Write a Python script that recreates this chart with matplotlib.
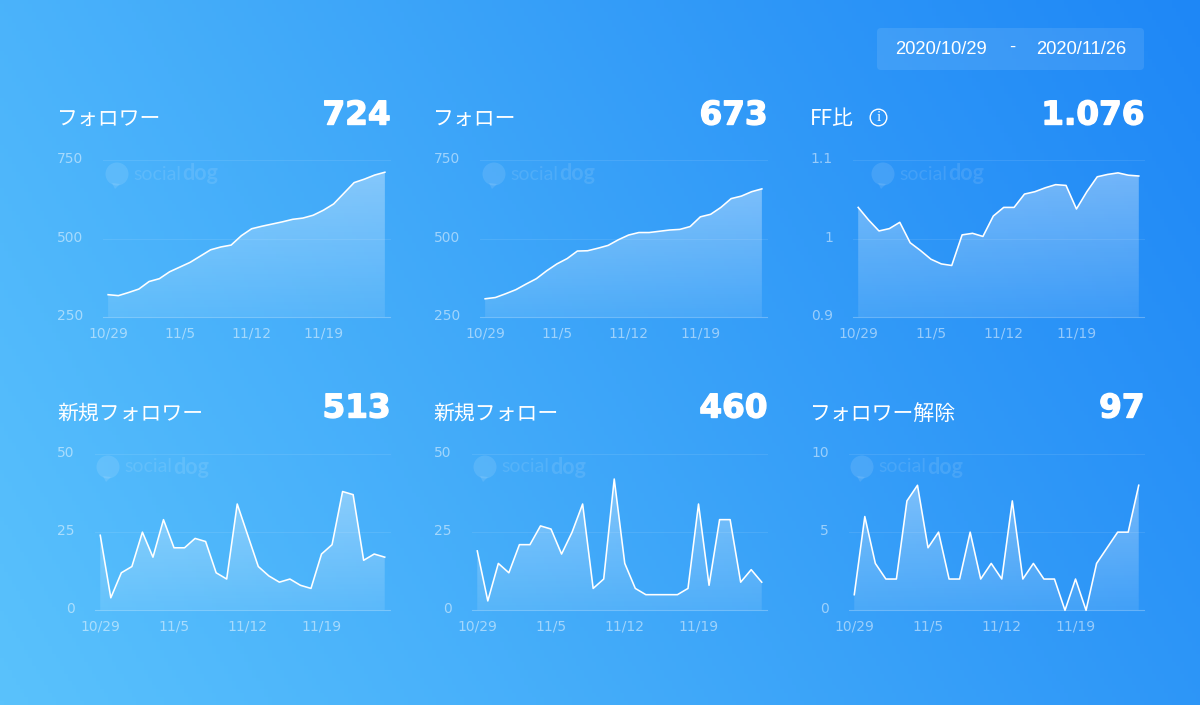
import matplotlib
matplotlib.use("Agg")
import matplotlib.pyplot as plt
import matplotlib.patheffects as pe
import numpy as np
from matplotlib.patches import Circle, FancyBboxPatch, Polygon
from matplotlib.transforms import ScaledTranslation

W, H = 1200, 705
JP = ["Noto Sans CJK JP", "DejaVu Sans"]

dates = ["10/29", "10/30", "10/31", "11/1", "11/2", "11/3", "11/4", "11/5", "11/6", "11/7",
         "11/8", "11/9", "11/10", "11/11", "11/12", "11/13", "11/14", "11/15", "11/16", "11/17",
         "11/18", "11/19", "11/20", "11/21", "11/22", "11/23", "11/24", "11/25"]
shown_dates = ["10/29", "11/5", "11/12", "11/19"]

titles = ["フォロワー", "フォロー", "FF比", "新規フォロワー", "新規フォロー", "フォロワー解除"]
totals = ["724", "673", "1.076", "513", "460", "97"]

followers = [322, 319, 329, 340, 364, 373, 395, 410, 425, 445, 465, 474, 480, 510,
             532, 540, 547, 554, 562, 566, 575, 591, 611, 645, 679, 690, 703, 712]
following = [309, 313, 325, 338, 356, 373, 398, 420, 437, 461, 462, 470, 479, 497,
             512, 520, 520, 524, 528, 530, 539, 570, 578, 600, 628, 636, 650, 659]
ff_ratio = [1.040, 1.024, 1.010, 1.013, 1.021, 0.995, 0.985, 0.974, 0.968, 0.966,
            1.005, 1.007, 1.003, 1.029, 1.040, 1.040, 1.057, 1.060, 1.065, 1.069,
            1.068, 1.038, 1.060, 1.079, 1.082, 1.084, 1.081, 1.080]
new_followers = [24, 4, 12, 14, 25, 17, 29, 20, 20, 23, 22, 12, 10, 34,
                 24, 14, 11, 9, 10, 8, 7, 18, 21, 38, 37, 16, 18, 17]
new_following = [19, 3, 15, 12, 21, 21, 27, 26, 18, 25, 34, 7, 10, 42,
                 15, 7, 5, 5, 5, 5, 7, 34, 8, 29, 29, 9, 13, 9]
unfollowed = [1, 6, 3, 2, 2, 7, 8, 4, 5, 2, 2, 5, 2, 3,
              2, 7, 2, 3, 2, 2, 0, 2, 0, 3, 4, 5, 5, 8]
series = [followers, following, ff_ratio, new_followers, new_following, unfollowed]

y_ticks = [[250, 500, 750], [250, 500, 750], [0.9, 1.0, 1.1],
           [0, 25, 50], [0, 25, 50], [0, 5, 10]]
y_labels = [["250", "500", "750"], ["250", "500", "750"], ["0.9", "1", "1.1"],
            ["0", "25", "50"], ["0", "25", "50"], ["0", "5", "10"]]

# pixel boxes of the plots: left, right, top, bottom
boxes = [(103, 390, 160.3, 317.3), (480, 767, 160.3, 317.3), (853, 1144, 160.3, 317.3),
         (95, 390, 454, 610.3), (472, 767, 454, 610.3), (849, 1144, 454, 610.3)]
title_pos = [(57, 119.5), (433, 119.5), (810, 119.5), (57, 413.5), (433, 413.5), (810, 413.5)]
total_pos = [(390.5, 115), (767.5, 115), (1144.5, 115), (390.5, 408), (767.5, 408), (1144.5, 408)]
logo_pos = [(117, 174), (494, 174), (883, 174), (108, 467), (485, 467), (862, 467)]

fig = plt.figure(figsize=(W / 100, H / 100), dpi=100)

# background and everything placed by pixel
bg = fig.add_axes([0, 0, 1, 1])
bg.set_xlim(0, W)
bg.set_ylim(H, 0)
bg.axis("off")
xx, yy = np.meshgrid(np.linspace(0, 1, 300), np.linspace(0, 1, 180))
t = np.clip((xx * W * 0.86 + (1 - yy) * H * 0.5) / (W * 0.86 + H * 0.5), 0, 1)[..., None]
c0 = np.array([0x5A, 0xC2, 0xFC]) / 255
c1 = np.array([0x1E, 0x87, 0xF6]) / 255
bg.imshow(c0 + (c1 - c0) * t, extent=(0, W, H, 0), aspect="auto", zorder=0)

bg.add_patch(FancyBboxPatch((877, 28), 267, 42, boxstyle="round,pad=0,rounding_size=4",
                            fc=(1, 1, 1, 0.1), ec="none", zorder=1))
bg.text(941, 49.5, "2020/10/29", color="white", fontsize=13.2, family="Liberation Sans", ha="center", va="center")
bg.text(1012, 47.5, "-", color="white", fontsize=13.2, family="Liberation Sans", ha="center", va="center")
bg.text(1081, 49.5, "2020/11/26", color="white", fontsize=13.2, family="Liberation Sans", ha="center", va="center")

for i in range(6):
    l, r, top, bottom = boxes[i]
    bg.text(title_pos[i][0], title_pos[i][1], titles[i], color="white", fontsize=15,
            family=JP, ha="left", va="center")
    bg.text(total_pos[i][0], total_pos[i][1], totals[i], color="white", fontsize=23.5,
            family="DejaVu Sans", fontweight="bold", ha="right", va="center",
            path_effects=[pe.withStroke(linewidth=1.0, foreground="white")])

    # watermark
    lx, ly = logo_pos[i]
    wm = (1, 1, 1, 0.11)
    bg.add_patch(Circle((lx, ly), 11.5, fc=wm, ec="none", zorder=1))
    bg.add_patch(Polygon([(lx - 5, ly + 9), (lx + 3, ly + 10), (lx - 2, ly + 15)], fc=wm, ec="none", zorder=1))
    bg.text(lx + 16, ly, "social", color=wm, fontsize=14, family="Lato", ha="left", va="center")
    bg.text(lx + 65, ly, "dog", color=wm, fontsize=15.5, family="Lato", fontweight="bold", ha="left", va="center")

    ax = fig.add_axes([l / W, 1 - bottom / H, (r - l) / W, (bottom - top) / H])
    ax.patch.set_alpha(0)
    vals = np.array(series[i])
    xs = np.arange(len(dates))
    ax.set_xlim(-0.5, len(dates) - 0.5)
    ax.set_ylim(y_ticks[i][0], y_ticks[i][-1])

    # fill fades from the top of the series down to the base line
    poly = ax.fill_between(xs, vals, y_ticks[i][0], color="none", lw=0)
    grad = np.ones((100, 2, 4))
    grad[..., 3] = np.linspace(0.36, 0.1, 100)[:, None]
    img = ax.imshow(grad, extent=(0, len(dates) - 1, y_ticks[i][0], vals.max()), aspect="auto", origin="upper", zorder=1)
    img.set_clip_path(poly.get_paths()[0], ax.transData)
    ax.set_xlim(-0.5, len(dates) - 0.5)
    ax.set_ylim(y_ticks[i][0], y_ticks[i][-1])

    ax.plot(xs, vals, color="white", lw=1.15, zorder=3, clip_on=False)

    for s in ["top", "left", "right"]:
        ax.spines[s].set_visible(False)
    ax.spines["bottom"].set_color((1, 1, 1, 0.2))
    ax.spines["bottom"].set_linewidth(0.8)
    ax.set_yticks(y_ticks[i], y_labels[i])
    ax.set_xticks([dates.index(d) for d in shown_dates], shown_dates)
    ax.grid(axis="y", color="white", alpha=0.09, lw=0.8, clip_on=False)
    ax.set_axisbelow(True)
    ax.tick_params(length=0, labelcolor=(1, 1, 1, 0.5), labelsize=10)
    ax.tick_params(axis="y", pad=14.5)
    ax.tick_params(axis="x", pad=6.5)
    for lab in ax.get_yticklabels():
        lab.set_transform(lab.get_transform() + ScaledTranslation(0, 2 / 72, fig.dpi_scale_trans))

# info mark beside FF比
bg.add_patch(Circle((878.5, 117.5), 8.3, fc="none", ec="white", lw=1.0, zorder=2))
bg.text(878.5, 117.5, "i", color="white", fontsize=11, family="Liberation Serif", ha="center", va="center")

fig.savefig("out.png", dpi=100)
